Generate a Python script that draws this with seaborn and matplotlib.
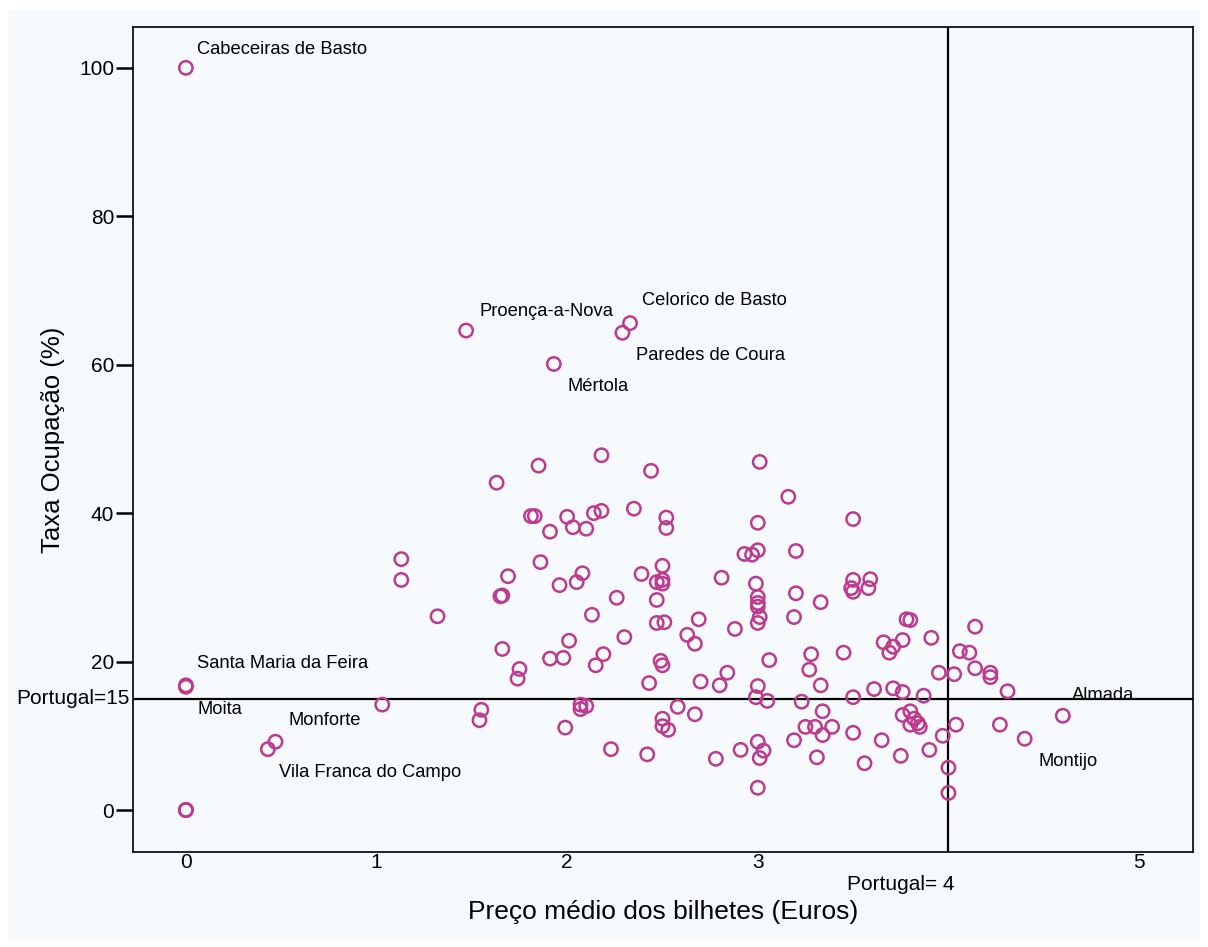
import matplotlib
matplotlib.use("Agg")
import matplotlib.pyplot as plt
import seaborn as sns
import pandas as pd
from matplotlib.patches import Rectangle
import matplotlib.transforms as mtransforms

# preco medio dos bilhetes (Euros)
preco = [
    0, 0, 0, 0, 0, 0, 0.43, 0.47, 1.03, 1.47, 2.33, 2.29, 1.93, 4.60, 4.40, 4.27,
    1.63, 1.85, 2.18, 2.44, 3.01, 3.16, 1.81, 1.83, 2.00, 2.03, 2.10, 1.91, 2.14,
    2.18, 2.35, 2.52, 2.52, 3.00, 2.93, 2.97, 3.00, 3.20, 1.13, 1.13, 1.86, 1.69,
    1.65, 1.66, 1.32, 1.96, 2.08, 2.05, 2.39, 2.50, 2.47, 2.50, 2.50, 2.81, 2.99,
    3.00, 3.00, 3.00, 3.01, 3.00, 3.20, 3.19, 2.26, 2.47, 2.13, 2.47, 2.51, 2.69,
    2.88, 2.63, 2.67, 2.30, 2.01, 1.66, 1.91, 1.98, 2.19, 2.15, 2.49, 2.50, 3.06,
    1.75, 1.74, 2.84, 3.50, 3.33, 3.50, 3.59, 3.49, 3.50, 3.58, 3.78, 3.80, 3.66,
    3.71, 3.69, 3.76, 3.91, 4.14, 4.06, 4.11, 3.28, 3.27, 3.45, 3.95, 4.03, 4.14,
    4.22, 4.22, 1.55, 1.54, 2.07, 2.10, 2.07, 1.99, 2.43, 2.70, 2.80, 3.33, 3.00,
    2.99, 3.05, 3.23, 2.58, 2.67, 2.50, 2.50, 2.53, 3.34, 3.25, 3.30, 3.34, 2.23,
    2.42, 2.78, 2.91, 3.00, 3.03, 3.01, 3.19, 3.31, 3.00, 4.31, 3.61, 3.71, 3.76,
    3.87, 3.50, 3.39, 3.76, 3.80, 3.82, 3.80, 3.85, 3.84, 3.50, 3.65, 3.75, 3.56,
    3.90, 3.97, 4.04, 4.00, 4.00,
]

# taxa de ocupacao (%)
taxa = [
    100.0, 16.8, 16.6, 0, 0, 0, 8.2, 9.2, 14.2, 64.6, 65.6, 64.3, 60.1, 12.7, 9.6, 11.5,
    44.1, 46.4, 47.8, 45.7, 46.9, 42.2, 39.6, 39.6, 39.5, 38.1, 37.9, 37.5, 40.0,
    40.3, 40.6, 39.4, 38.0, 38.7, 34.5, 34.4, 35.0, 34.9, 33.8, 31.0, 33.4, 31.5,
    28.8, 28.9, 26.1, 30.3, 31.9, 30.7, 31.8, 32.9, 30.7, 31.0, 30.5, 31.3, 30.5,
    28.7, 27.9, 27.4, 26.0, 25.2, 29.2, 26.0, 28.6, 28.3, 26.3, 25.2, 25.3, 25.7,
    24.4, 23.6, 22.4, 23.3, 22.8, 21.7, 20.4, 20.5, 21.0, 19.5, 20.1, 19.5, 20.2,
    19.0, 17.7, 18.5, 39.2, 28.0, 31.0, 31.1, 29.9, 29.4, 29.9, 25.7, 25.6, 22.6,
    22.0, 21.2, 22.9, 23.2, 24.7, 21.4, 21.2, 21.0, 18.9, 21.2, 18.5, 18.3, 19.1,
    18.5, 17.9, 13.5, 12.1, 14.2, 14.0, 13.6, 11.1, 17.1, 17.3, 16.8, 16.8, 16.7,
    15.2, 14.7, 14.6, 13.9, 12.9, 12.3, 11.3, 10.8, 13.3, 11.2, 11.2, 10.1, 8.2,
    7.5, 6.9, 8.1, 9.2, 8.0, 7.0, 9.4, 7.1, 3.0, 16.0, 16.3, 16.4, 15.9,
    15.4, 15.2, 11.2, 12.8, 13.3, 12.3, 11.5, 11.2, 11.7, 10.4, 9.4, 7.3, 6.3,
    8.1, 10.0, 11.5, 5.7, 2.3,
]

# rotulos dos concelhos (texto, x, y)
rotulos = ["Cabeceiras de Basto", "Proença-a-Nova", "Celorico de Basto", "Paredes de Coura",
           "Mértola", "Santa Maria da Feira", "Moita", "Monforte", "Vila Franca do Campo",
           "Almada", "Montijo"]
rot_x = [0.06, 1.54, 2.39, 2.36, 2.00, 0.06, 0.06, 0.54, 0.49, 4.65, 4.47]
rot_y = [102.5, 67.2, 68.7, 61.3, 57.1, 19.7, 13.6, 12.0, 5.1, 15.4, 6.5]

media_preco = 4
media_taxa = 15

df = pd.DataFrame({"preco": preco, "taxa": taxa})

sns.set_style("ticks")
plt.rcParams["font.family"] = ["Liberation Sans", "DejaVu Sans"]
plt.rcParams["text.color"] = "black"

bg = "#f7fafd"
cor = "#bd3a91"

fig = plt.figure(figsize=(12.08, 9.47), dpi=100, facecolor="white")
fig.patches.append(Rectangle((8 / 1208, 7 / 947), 1192 / 1208, 930 / 947,
                             transform=fig.transFigure, facecolor=bg, edgecolor="none", zorder=-1))
ax = fig.add_axes([0.110, 0.1003, 0.8776, 0.8712])
ax.set_facecolor(bg)

sns.scatterplot(data=df, x="preco", y="taxa", ax=ax, marker="o", s=92,
                facecolor="none", edgecolor=cor, linewidth=1.8, zorder=3)

ax.axhline(media_taxa, color="black", lw=1.6, zorder=2)
ax.axvline(media_preco, color="black", lw=1.6, zorder=2)

for t, xx, yy in zip(rotulos, rot_x, rot_y):
    ax.text(xx, yy, t, fontsize=13.2, ha="left", va="center", color="black")

ax.set_xlim(-0.278, 5.283)
ax.set_ylim(-5.66, 105.5)
ax.set_xticks([0, 1, 2, 3, 5])
ax.set_yticks([0, 20, 40, 60, 80, 100])
ax.tick_params(axis="both", labelsize=15, colors="black", labelcolor="black")
ax.tick_params(axis="y", length=12, width=1.8, pad=1.5)
ax.tick_params(axis="x", length=0, pad=1)

# rotulos das linhas de referencia
tr_y = mtransforms.blended_transform_factory(ax.transAxes, ax.transData)
ax.text(-0.003, media_taxa, "Portugal=15", transform=tr_y, ha="right", va="center",
        fontsize=15, color="black")
tr_x = mtransforms.blended_transform_factory(ax.transData, ax.transAxes)
ax.text(media_preco + 0.03, -0.028, "Portugal= 4", transform=tr_x, ha="right", va="top",
        fontsize=15, color="black")

ax.set_xlabel("Preço médio dos bilhetes (Euros)", fontsize=19, labelpad=20, color="black")
ax.set_ylabel("Taxa Ocupação (%)", fontsize=18.5, labelpad=10, color="black")

for sp in ax.spines.values():
    sp.set_visible(True)
    sp.set_color("black")
    sp.set_linewidth(1.2)

fig.savefig("out.png", dpi=100, facecolor=fig.get_facecolor())
